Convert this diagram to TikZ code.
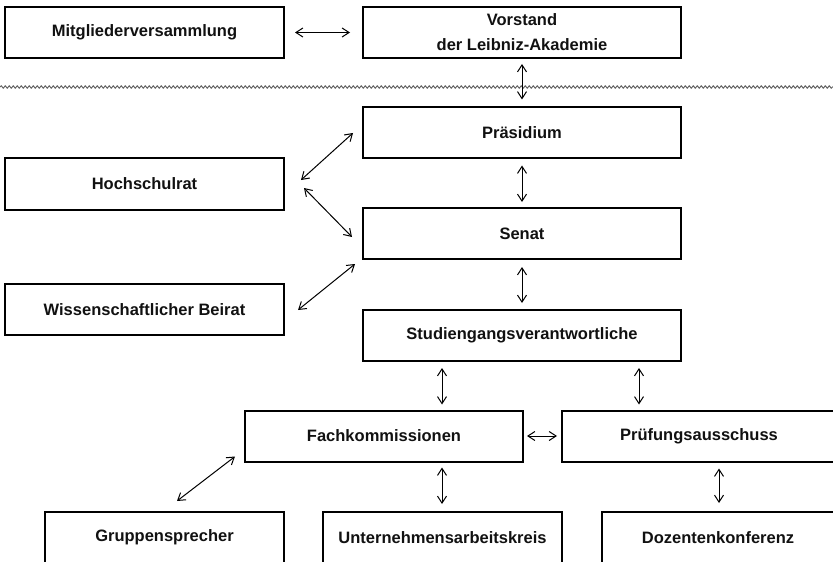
\documentclass[tikz,border=0pt]{standalone}
\usepackage{fontspec}
\setmainfont{Liberation Sans}
\usetikzlibrary{arrows.meta,calc,positioning,decorations.pathmorphing}
\definecolor{OrgInk}{HTML}{111111}
\definecolor{OrgLine}{HTML}{000000}
\definecolor{OrgWave}{HTML}{666666}
\tikzset{
  every node/.style={font=\bfseries\fontsize{8.25}{12.5}\selectfont, text=OrgInk},
  unit/.style={draw=OrgLine, line width=1pt, minimum height=25.5pt, inner sep=0pt, align=center},
  wideunit/.style={unit, minimum width=159pt},
  sideunit/.style={unit, minimum width=139.5pt},
  lowunit/.style={unit, minimum width=119.5pt},
  link/.style={{Straight Barb[length=3.5pt,width=4.5pt]}-{Straight Barb[length=3.5pt,width=4.5pt]}, draw=OrgLine, line width=0.5pt},
  divider/.style={draw=OrgWave, line width=0.5pt, decorate, decoration={snake, amplitude=0.6pt, segment length=2pt}},
}

\begin{document}
\begin{tikzpicture}[x=0.5pt,y=-0.5pt]
  \clip (0,0) rectangle (833,561);
  \fill[white] (0,0) rectangle (833,561);
  % Verein
  \node[sideunit] (mitglied) at (144.5,32.5) {Mitgliederversammlung};
  \node[wideunit] (vorstand) at (522,32.5) {Vorstand\\der Leibniz-Akademie};
  \draw[divider] (0,87) -- (833,87);
  % Leitung
  \node[wideunit] (prae) at (522,133) {Präsidium};
  \node[wideunit] (senat) at (522,233.5) {Senat};
  \node[wideunit] (stud) at (522,335.5) {Studiengangsverantwortliche};
  \node[sideunit] (hoch) at (144.5,184) {Hochschulrat};
  \node[sideunit] (wiss) at (144.5,309.5) {Wissenschaftlicher Beirat};
  % Ebene darunter
  \node[unit, minimum width=139pt] (fach) at (384,436) {Fachkommissionen};
  \node[unit, minimum width=137pt] (pruef) at (699,436) {Prüfungsausschuss};
  \node[lowunit] (grupp) at (164.5,537.5) {Gruppensprecher};
  \node[lowunit] (unt) at (442.5,537.5) {Unternehmensarbeitskreis};
  \node[unit, minimum width=116pt] (doz) at (718,537.5) {Dozentenkonferenz};
  \coordinate (colA) at (442,0);
  \coordinate (colB) at (639,0);
  \coordinate (colC) at (719,0);
  % Verbindungen
  \draw[link, shorten <=5pt, shorten >=6pt] (mitglied) -- (vorstand);
  \draw[link, shorten <=2.5pt, shorten >=3.5pt] (vorstand) -- (prae);
  \draw[link, shorten <=3pt, shorten >=2.5pt] (prae) -- (senat);
  \draw[link, shorten <=3.5pt, shorten >=3pt] (senat) -- (stud);
  \draw[link] ([shift={(-9,0)}]prae.west) -- ([shift={(16,-4)}]hoch.east);
  \draw[link] ([shift={(19,4)}]hoch.east) -- ([shift={(-10,3.5)}]senat.west);
  \draw[link] ([shift={(-7,4)}]senat.south west) -- ([shift={(13,0.5)}]wiss.east);
  \draw[link, shorten <=3pt, shorten >=2.5pt] (stud.south -| colA) -- (fach.north -| colA);
  \draw[link, shorten <=3pt, shorten >=2.5pt] (stud.south -| colB) -- (pruef.north -| colB);
  \draw[link, shorten <=1.5pt, shorten >=2pt] (fach) -- (pruef);
  \draw[link] ([shift={(-9,-6)}]fach.south west) -- ([shift={(12.5,-10)}]grupp.north);
  \draw[link, shorten <=2.5pt, shorten >=3.5pt] (fach.south -| colA) -- (unt.north -| colA);
  \draw[link, shorten <=3pt, shorten >=4pt] (pruef.south -| colC) -- (doz.north -| colC);
\end{tikzpicture}
\end{document}
